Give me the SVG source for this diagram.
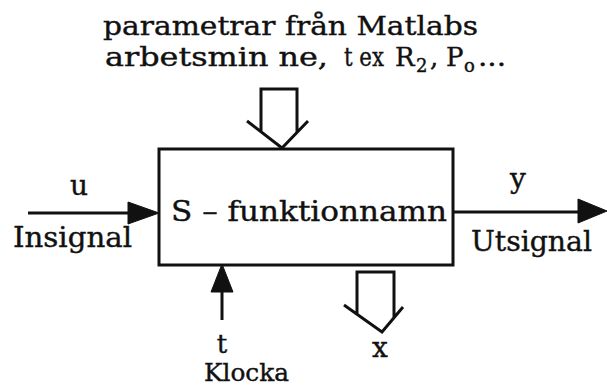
<svg xmlns="http://www.w3.org/2000/svg" width="607" height="387" viewBox="0 0 607 387">
  <style>
    .lbl { font-family: "DejaVu Serif", "Liberation Serif", serif; font-size: 28px; fill: #111; stroke: #111; stroke-width: 0.4; }
    .par { font-size: 26px; }
    .sub { font-size: 18px; }
    .sm { font-size: 24px; }
    .line { stroke: #111; stroke-width: 3; fill: none; }
    .hollow { stroke: #111; stroke-width: 3; fill: #fff; stroke-linejoin: miter; }
    .head { fill: #111; stroke: #111; stroke-width: 1; }
  </style>
  <rect width="607" height="387" fill="#fff"/>

  <!-- parameter annotation above the block -->
  <g id="params">
    <text class="lbl par" x="103" y="35" textLength="375" lengthAdjust="spacingAndGlyphs">parametrar från Matlabs</text>
    <text class="lbl par" x="105" y="66" textLength="223" lengthAdjust="spacingAndGlyphs">arbetsmin ne,</text>
    <text class="lbl par" x="344" y="66" textLength="40" lengthAdjust="spacingAndGlyphs">t ex</text>
    <text class="lbl par" x="395" y="66">R</text>
    <text class="lbl sub" x="416" y="72">2</text>
    <text class="lbl par" x="430" y="66">,</text>
    <text class="lbl par" x="446" y="66">P</text>
    <text class="lbl sub" x="464" y="72">o</text>
    <text class="lbl par" x="478" y="66" textLength="28" lengthAdjust="spacingAndGlyphs">...</text>
  </g>

  <!-- the S-function block -->
  <g id="sfunction">
    <rect class="line" x="159" y="149" width="294" height="116"/>
    <text class="lbl" x="171" y="221" textLength="276" lengthAdjust="spacingAndGlyphs">S – funktionnamn</text>
  </g>

  <g id="input-label">
    <text class="lbl" x="79" y="195" text-anchor="middle">u</text>
    <text class="lbl" x="13" y="247" textLength="119" lengthAdjust="spacingAndGlyphs">Insignal</text>
  </g>

  <g id="output-label">
    <text class="lbl" x="518" y="188" text-anchor="middle">y</text>
    <text class="lbl" x="471" y="251" textLength="121" lengthAdjust="spacingAndGlyphs">Utsignal</text>
  </g>

  <g id="clock-label">
    <text class="lbl par" x="222" y="353" text-anchor="middle">t</text>
    <text class="lbl sm" x="204" y="381" textLength="85" lengthAdjust="spacingAndGlyphs">Klocka</text>
  </g>

  <g id="state-label">
    <text class="lbl" x="380" y="357" text-anchor="middle">x</text>
  </g>

  <!-- connectors -->
  <g id="connectors">
    <!-- input u -->
    <line class="line" x1="28" y1="213" x2="132" y2="213"/>
    <polygon class="head" points="128,202 159,213 128,224"/>
    <!-- output y -->
    <line class="line" x1="453" y1="212" x2="582" y2="212"/>
    <polygon class="head" points="578,199 607,211 578,223"/>
    <!-- clock t -->
    <line class="line" x1="222" y1="320" x2="222" y2="288"/>
    <polygon class="head" points="211,292 222,264 233,292"/>
    <!-- parameters in (hollow arrow) -->
    <path class="hollow" d="M261,131 L261,89 L297,89 L297,133 M247,121 L282,148 L308,121"/>
    <!-- states out (hollow arrow) -->
    <path class="hollow" d="M357,314 L357,272 L394,272 L394,318 M344,305 L382,332 L403,307"/>
  </g>
</svg>
